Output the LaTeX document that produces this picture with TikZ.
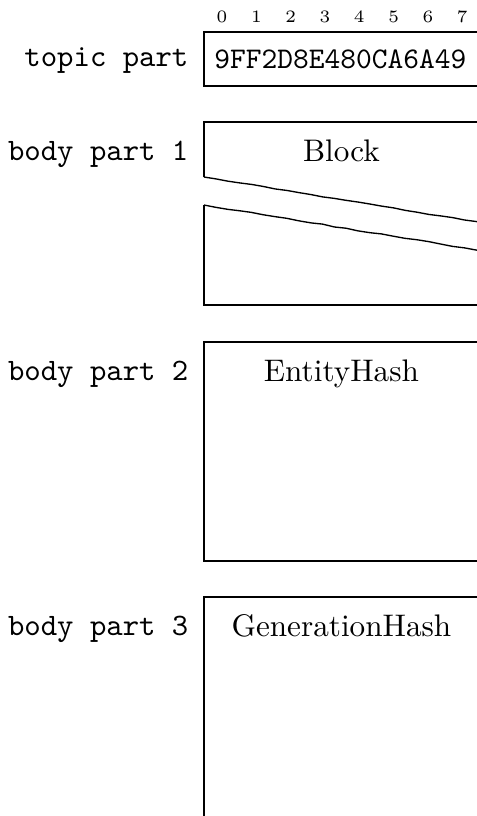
\documentclass[tikz,border=0pt]{standalone}
\usetikzlibrary{decorations.pathmorphing}

\begin{document}
\begin{tikzpicture}[
  font=\fontsize{10.4}{12.5}\selectfont,
  part/.style={font=\fontsize{10.4}{12.5}\selectfont\ttfamily, anchor=base east},
  title/.style={anchor=base},
  byte/.style={font=\fontsize{5.8}{7}\selectfont, inner sep=1pt},
  frame/.style={draw, line width=0.45pt},
  brk/.style={frame, decorate, decoration={random steps, segment length=4pt, amplitude=0.15pt}}
]
\pgfmathsetseed{7}
\useasboundingbox (0,0) rectangle (5.588,-9.560);
\clip (0,0) rectangle (5.588,-9.560);

% byte indices
\foreach \i in {0,...,7}
  \node[byte] (b\i) at ({2.601+0.402*\i},-0.199) {\i};

% topic
\draw[frame] (2.39,-0.375) rectangle (5.67,-1.008);
\node[font=\fontsize{10}{12}\selectfont\ttfamily] (hex) at (3.989,-0.691) {9FF2D8E480CA6A49};
\node[part] (tp) at (2.33,-0.779) {topic part};

% body part 1, cut
\draw[frame] (2.39,-2.074) -- (2.39,-1.429) -- (5.67,-1.429) -- (5.67,-2.615);
\draw[brk] (2.39,-2.074) -- (5.67,-2.615);
\draw[brk] (2.39,-2.402) -- (5.67,-2.943);
\draw[frame] (2.39,-2.402) -- (2.39,-3.573) -- (5.67,-3.573) -- (5.67,-2.943);
\node[title] (blk) at (4.0,-1.892) {Block};
\node[part] (bp1) at (2.33,-1.880) {body part 1};

% body part 2
\draw[frame] (2.39,-4.007) rectangle (5.67,-6.572);
\node[title] (eh) at (4.0,-4.469) {EntityHash};
\node[part] (bp2) at (2.33,-4.457) {body part 2};

% body part 3
\draw[frame] (2.39,-6.994) rectangle (5.67,-10.0);
\node[title] (gh) at (4.0,-7.457) {GenerationHash};
\node[part] (bp3) at (2.33,-7.445) {body part 3};
\end{tikzpicture}
\end{document}
